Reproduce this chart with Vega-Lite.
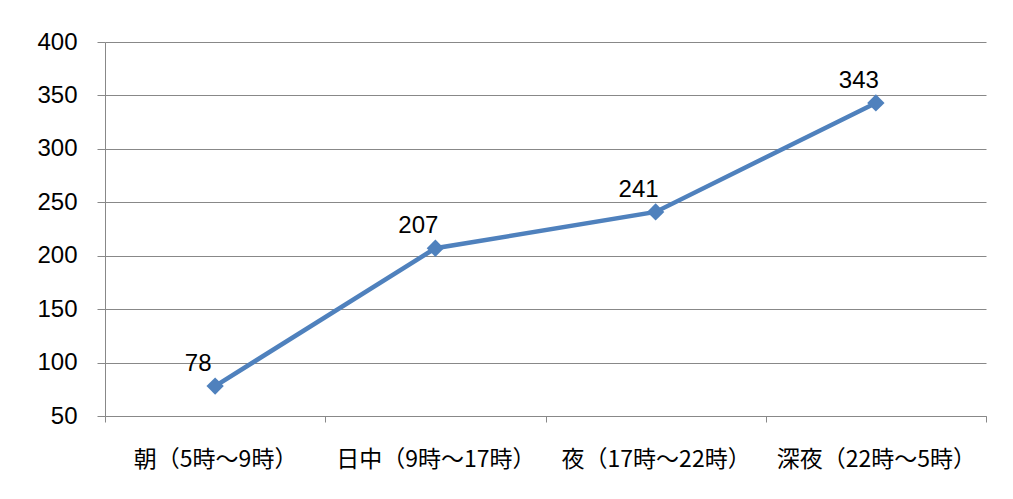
{
  "$schema": "https://vega.github.io/schema/vega-lite/v6.json",
  "width": 881,
  "height": 374,
  "autosize": "none",
  "padding": {"left": 105, "top": 42, "right": 27, "bottom": 83},
  "background": "white",
  "config": {
    "view": {"stroke": null},
    "font": "Noto Sans CJK JP"
  },
  "data": {
    "values": [
      {"time": "朝（5時～9時）", "value": 78},
      {"time": "日中（9時～17時）", "value": 207},
      {"time": "夜（17時～22時）", "value": 241},
      {"time": "深夜（22時～5時）", "value": 343}
    ]
  },
  "encoding": {
    "x": {
      "field": "time",
      "type": "nominal",
      "sort": null,
      "scale": {"paddingInner": 0, "paddingOuter": 0},
      "axis": {
        "title": null,
        "labelAngle": 0,
        "labelFontSize": 23,
        "labelFont": "Noto Sans CJK JP",
        "labelColor": "#000000",
        "labelPadding": 26,
        "labelLimit": 300,
        "domainColor": "#888888",
        "tickColor": "#888888",
        "tickSize": 6,
        "tickBand": "extent",
        "grid": false
      }
    },
    "y": {
      "field": "value",
      "type": "quantitative",
      "scale": {"domain": [50, 400], "nice": false, "zero": false},
      "axis": {
        "title": null,
        "values": [50, 100, 150, 200, 250, 300, 350, 400],
        "labelFontSize": 24,
        "labelFont": "Liberation Sans",
        "labelColor": "#000000",
        "labelPadding": 20,
        "tickSize": 8,
        "tickColor": "#888888",
        "domainColor": "#888888",
        "gridColor": "#888888",
        "gridWidth": 1
      }
    }
  },
  "layer": [
    {
      "mark": {"type": "line", "color": "#4F81BD", "strokeWidth": 4.5}
    },
    {
      "mark": {"type": "point", "shape": "diamond", "filled": true, "color": "#4F81BD", "size": 300, "opacity": 1}
    },
    {
      "mark": {"type": "text", "fontSize": 24, "font": "Liberation Sans", "color": "#000000", "dx": -17, "dy": -22},
      "encoding": {"text": {"field": "value", "type": "quantitative"}}
    }
  ]
}
